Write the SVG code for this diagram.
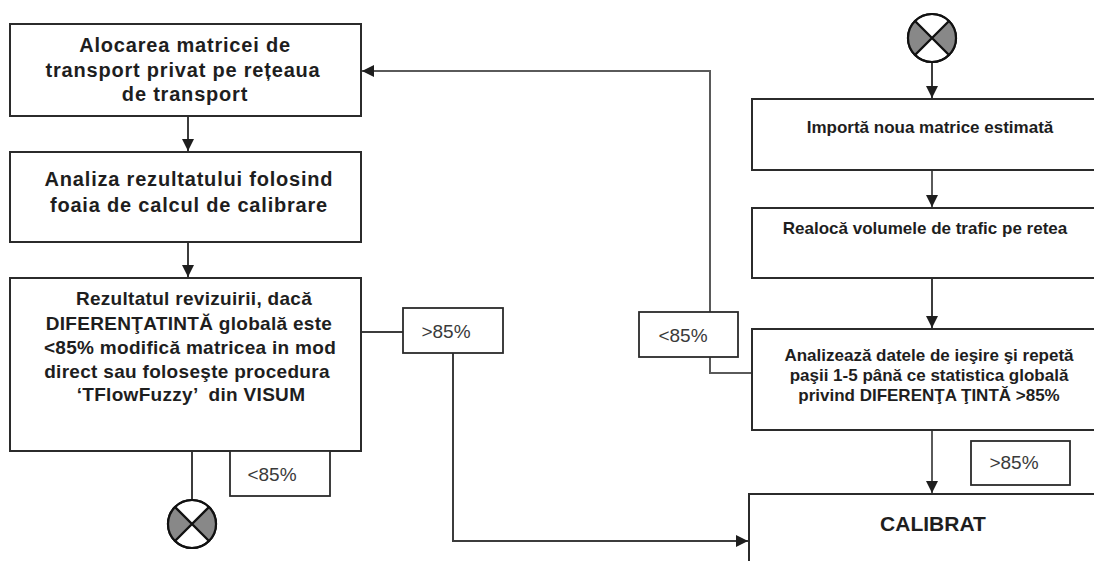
<svg xmlns="http://www.w3.org/2000/svg" width="1094" height="561" viewBox="0 0 1094 561">
<defs>
<style>
.box{fill:#fff;stroke:#2b2b2b;stroke-width:2}
.lbl{fill:#fff;stroke:#2b2b2b;stroke-width:1.8}
.t{font-family:"Liberation Sans",Arial,sans-serif;font-weight:bold;fill:#1e1e1e;text-anchor:middle}
.tl{font-size:20px;letter-spacing:0.8px}
.tm{font-size:19px;letter-spacing:0.3px}
.tr{font-size:17px}
.lt{font-family:"Liberation Sans",Arial,sans-serif;font-size:19px;fill:#3a3a3a;text-anchor:middle}
.c{fill:none;stroke:#3c3c3c;stroke-width:2}
.cg{fill:none;stroke:#5a5a5a;stroke-width:2}
</style>
<marker id="ar" markerUnits="userSpaceOnUse" markerWidth="14" markerHeight="12" refX="12" refY="6" orient="auto">
<path d="M0,0 L12,6 L0,12 Z" fill="#1e1e1e"/>
</marker>
<g id="xc">
<circle r="24" fill="#fff" stroke="#111" stroke-width="2.2"/>
<path d="M-17,-17 L0,0 L-17,17 A24,24 0 0 1 -17,-17 Z" fill="#888"/>
<path d="M17,-17 L0,0 L17,17 A24,24 0 0 0 17,-17 Z" fill="#888"/>
<circle r="24" fill="none" stroke="#111" stroke-width="2.2"/>
<path d="M-17,-17 L17,17 M17,-17 L-17,17" stroke="#111" stroke-width="2.4"/>
</g>
</defs>
<rect width="1094" height="561" fill="#fff"/>
<g id="connectors">
<line class="c" x1="188" y1="116" x2="188" y2="151" marker-end="url(#ar)"/>
<line class="c" x1="188" y1="242" x2="188" y2="277" marker-end="url(#ar)"/>
<line class="c" x1="361" y1="332" x2="403" y2="332"/>
<polyline class="c" points="453,353 453,541 748,541" marker-end="url(#ar)"/>
<line class="c" x1="192" y1="451" x2="192" y2="500"/>
<line class="c" x1="932" y1="62" x2="932" y2="98" marker-end="url(#ar)"/>
<line class="cg" x1="932" y1="170" x2="932" y2="207" marker-end="url(#ar)"/>
<line class="c" x1="932" y1="278" x2="932" y2="328" marker-end="url(#ar)"/>
<line class="cg" x1="932" y1="430" x2="932" y2="493" marker-end="url(#ar)"/>
<polyline class="cg" points="752,373 710,373 710,357"/>
<polyline class="cg" points="710,312 710,71 362,71" marker-end="url(#ar)"/>
</g>
<g id="n1">
<rect class="box" x="10" y="24" width="351" height="92"/>
<text class="t tl" x="185" y="52">Alocarea matricei de</text>
<text class="t tl" x="183" y="77">transport privat pe rețeaua</text>
<text class="t tl" x="185" y="101">de transport</text>
</g>
<g id="n2">
<rect class="box" x="10" y="152" width="351" height="90"/>
<text class="t tl" x="189" y="186">Analiza rezultatului folosind</text>
<text class="t tl" x="189" y="212">foaia de calcul de calibrare</text>
</g>
<g id="n3">
<rect class="box" x="10" y="278" width="351" height="173"/>
<text class="t tm" x="194" y="305">Rezultatul revizuirii, dacă</text>
<text class="t tm" x="189" y="330">DIFERENŢATINTĂ globală este</text>
<text class="t tm" x="190" y="354">&lt;85% modifică matricea in mod</text>
<text class="t tm" x="187" y="378">direct sau foloseşte procedura</text>
<text class="t tm" x="191" y="401" xml:space="preserve">‘TFlowFuzzy’  din VISUM</text>
</g>
<g id="l1">
<rect class="lbl" x="403" y="308" width="100" height="45"/>
<text class="lt" x="446" y="338">&gt;85%</text>
</g>
<g id="l2">
<rect class="lbl" x="230" y="451" width="100" height="45"/>
<text class="lt" x="272" y="481">&lt;85%</text>
</g>
<g id="end1">
<use href="#xc" x="192" y="524"/>
</g>
<g id="start2">
<use href="#xc" x="932" y="38"/>
</g>
<g id="n4">
<rect class="box" x="752" y="99" width="360" height="71"/>
<text class="t tr" x="930" y="133">Importă noua matrice estimată</text>
</g>
<g id="n5">
<rect class="box" x="752" y="208" width="360" height="70"/>
<text class="t tr" x="925" y="234">Realocă volumele de trafic pe retea</text>
</g>
<g id="n6">
<rect class="box" x="752" y="329" width="360" height="101"/>
<text class="t tr" x="929" y="361">Analizează datele de ieşire şi repetă</text>
<text class="t tr" x="929" y="381">paşii 1-5 până ce statistica globală</text>
<text class="t tr" x="929" y="401">privind DIFERENŢA ŢINTĂ &gt;85%</text>
</g>
<g id="l3">
<rect class="lbl" x="639" y="312" width="99" height="45"/>
<text class="lt" x="683" y="342">&lt;85%</text>
</g>
<g id="l4">
<rect class="lbl" x="971" y="441" width="99" height="44"/>
<text class="lt" x="1014" y="469">&gt;85%</text>
</g>
<g id="n7">
<rect class="box" x="749" y="494" width="360" height="80"/>
<text class="t" style="font-size:21px" x="933" y="531">CALIBRAT</text>
</g>
</svg>
